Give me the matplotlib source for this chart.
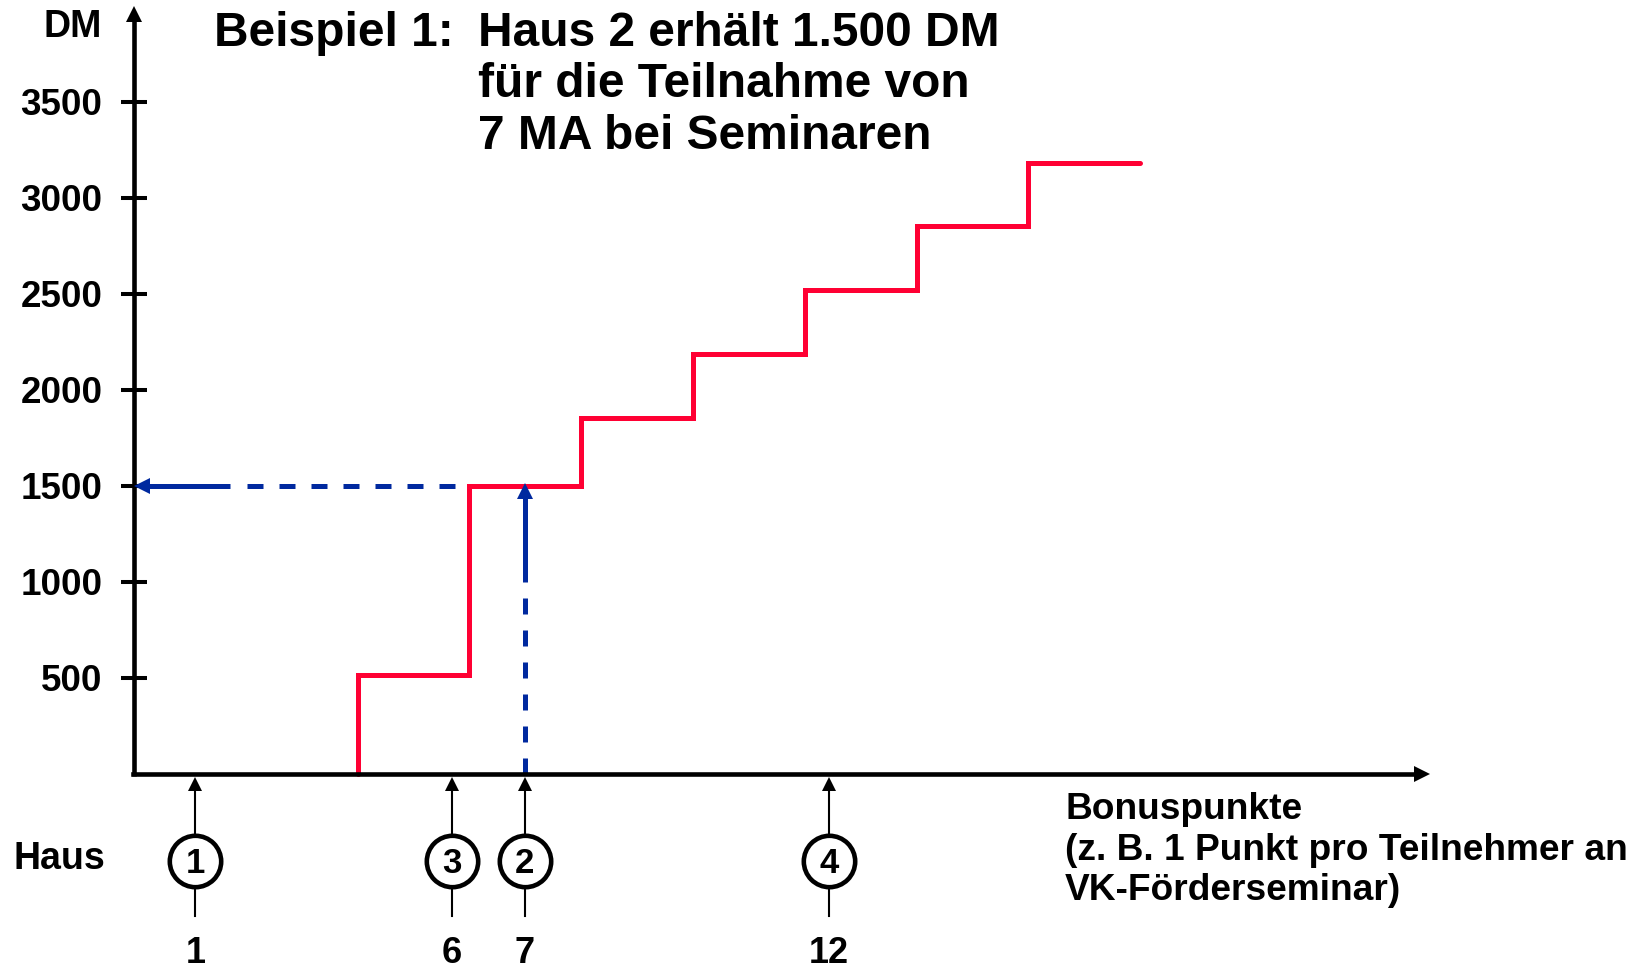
import matplotlib
matplotlib.use("Agg")
import matplotlib.pyplot as plt
import numpy as np

plt.rcParams['font.family'] = ['Liberation Sans', 'DejaVu Sans']
plt.rcParams['font.weight'] = 'bold'

# ---------------- data ----------------
y_ticks = [500, 1000, 1500, 2000, 2500, 3000, 3500]
y_tick_labels = ["500", "1000", "1500", "2000", "2500", "3000", "3500"]
step_edges = [4, 6, 8, 10, 12, 14, 16, 18]           # Bonuspunkte thresholds
step_levels = [515, 1500, 1850, 2185, 2520, 2850, 3180]  # DM per level
house_ids = ["1", "3", "2", "4"]
house_points_labels = ["1", "6", "7", "12"]
house_x = [1.10, 5.69, 6.99, 12.43]                   # drawn position on Bonuspunkte axis
example_points = 7
example_amount = 1500
example_corner = 6

title_left = "Beispiel 1:"
title_lines = ["Haus 2 erhält 1.500 DM", "für die Teilnahme von", "7 MA bei Seminaren"]
xlabel_lines = ["Bonuspunkte", "(z. B. 1 Punkt pro Teilnehmer an", "VK-Förderseminar)"]

RED = "#FF0033"
BLUE = "#00299F"

# ---------------- layout ----------------
W, H = 1648, 972
fig = plt.figure(figsize=(W / 100, H / 100), dpi=100)
ax = fig.add_axes([0, 0, 1, 1])

X0, SX = 134.0, 55.9
Y0, SY = 773.7, 96.015 / 500


def dx(px):
    return (px - X0) / SX


def dy(py):
    return (Y0 - py) / SY


ax.set_xlim(dx(0), dx(W))
ax.set_ylim(dy(H), dy(0))

# axes (spines)
for s in ["top", "right"]:
    ax.spines[s].set_visible(False)
ax.spines["left"].set_position(("data", 0))
ax.spines["bottom"].set_position(("data", 0))
ax.spines["left"].set_linewidth(3.3)
ax.spines["bottom"].set_linewidth(3.3)
ax.spines["left"].set_bounds(dy(776), dy(20))
ax.spines["bottom"].set_bounds(dx(132.5), dx(1417))
ax.spines["left"].set_capstyle("butt")

# axis arrow heads
ax.plot([0], [dy(14.5)], marker="^", ms=11.8, color="black", mew=0, zorder=3, clip_on=False)
ax.plot([dx(1422)], [0], marker=">", ms=11.8, color="black", mew=0, zorder=3, clip_on=False)

ax.set_xticks([])
ax.set_yticks(y_ticks)
ax.set_yticklabels(y_tick_labels)
ax.tick_params(axis="y", direction="inout", length=18.7, width=2.9,
               pad=13.4, labelsize=26.5, colors="black")
for lab in ax.get_yticklabels():
    lab.set_fontweight("bold")

# red step curve
sx = np.r_[step_edges[0], step_edges]
sy = np.r_[0, step_levels, step_levels[-1]]
ax.plot(sx, sy, drawstyle="steps-post", color=RED, lw=3.6,
        solid_capstyle="round", solid_joinstyle="miter", zorder=2.4)

# blue example: vertical from points to curve
ax.plot([example_points, example_points], [0, 1000], color=BLUE, lw=3.6,
        linestyle=(0, (3.2, 3.2)), zorder=2.2)
ax.plot([example_points, example_points], [1000, dy(492)], color=BLUE, lw=3.6,
        solid_capstyle="butt", zorder=2.2)
ax.plot([example_points], [dy(491)], marker="^", ms=11, color=BLUE, mew=0, zorder=2.6)

# blue example: horizontal from curve to DM axis
ax.plot([dx(246.7), example_corner], [example_amount, example_amount], color=BLUE, lw=3.6,
        linestyle=(0, (3.2, 3.2)), zorder=2.2)
ax.plot([dx(141), dx(230)], [example_amount, example_amount], color=BLUE, lw=3.6,
        solid_capstyle="butt", zorder=2.2)
ax.plot([dx(142)], [example_amount], marker="<", ms=11, color=BLUE, mew=0, zorder=2.6)

# houses below axis
for hx, hid, hp in zip(house_x, house_ids, house_points_labels):
    ax.plot([hx, hx], [dy(916), dy(786)], color="black", lw=1.5, zorder=3, clip_on=False)
    ax.plot([hx], [dy(783.5)], marker="^", ms=10.5, color="black", mew=0, zorder=3, clip_on=False)
    ax.plot([hx], [dy(860.8)], marker="o", ms=37, mfc="white", mec="black", mew=3.3,
            zorder=4, clip_on=False)
    ax.text(hx, dy(860), hid, ha="center", va="center_baseline", fontsize=25,
            fontweight="bold", zorder=5)
    ax.text(hx, dy(962.5), hp, ha="center", va="baseline", fontsize=26,
            fontweight="bold")

ax.text(dx(13), dy(869.3), "Haus", ha="left", va="baseline", fontsize=27, fontweight="bold")
ax.text(dx(101.5), dy(37), "DM", ha="right", va="baseline", fontsize=27, fontweight="bold")

# title
ax.text(dx(214), dy(45.7), title_left, ha="left", va="baseline", fontsize=34.5, fontweight="bold")
for i, line in enumerate(title_lines):
    ax.text(dx(478), dy(45.7 + 51.5 * i), line, ha="left", va="baseline",
            fontsize=34.5, fontweight="bold")

# x-axis description
for i, line in enumerate(xlabel_lines):
    ax.text(dx(1065), dy(819 + 40.5 * i), line, ha="left", va="baseline",
            fontsize=26.7, fontweight="bold")

fig.savefig("out.png", dpi=100, facecolor="white")
